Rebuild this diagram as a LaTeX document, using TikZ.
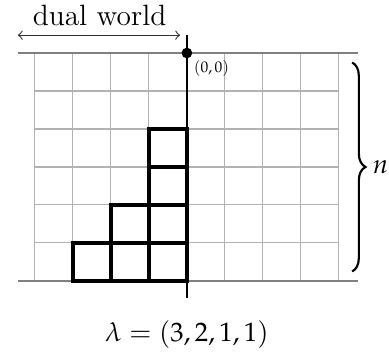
\documentclass[tikz,border=0pt]{standalone}
\usepackage{amsmath}
\usepackage{mathpazo}
\usetikzlibrary{positioning}
\usetikzlibrary{decorations.pathreplacing}

\tikzset{
  gridline/.style={gray!60, line width=0.4pt},
  edgeline/.style={gray, line width=0.8pt},
  cell/.style={black, line width=1.2pt},
  axisline/.style={black, line width=0.8pt},
  origindot/.style={circle, fill=black, inner sep=0pt, minimum size=4pt},
}

\begin{document}
\begin{tikzpicture}[x=0.5cm, y=0.5cm]
    \useasboundingbox (-4.92,1.395) rectangle (5.32,-7.89);

    % Grid
    \foreach \i in {-4,...,4} {
        \draw[gridline] (\i,0) -- (\i,-6);
    }
    \foreach \j in {-1,...,-5} {
        \draw[gridline] (-4,\j) -- (4,\j);
    }

    % Top and bottom lines
    \draw[edgeline] (-4.45,0) -- (4.5,0);
    \draw[edgeline] (-4.45,-6) -- (4.5,-6);

    % Young diagram
    \foreach \c/\r in {-3/-5,-2/-5,-1/-5,-2/-4,-1/-4,-1/-3,-1/-2} {
        \draw[cell] (\c,\r) rectangle (\c+1,\r-1);
    }

    % Axis and origin
    \coordinate (axtop) at (0,0.47);
    \coordinate (axbot) at (0,-6.45);
    \draw[axisline] (axtop) -- (axbot);
    \node[origindot] (origin) at (0,0) {};
    \node[anchor=north west, inner sep=0pt, font=\fontsize{5.8}{7}\selectfont] (orglabel) at (0.17,-0.18) {$(0,0)$};

    % Dual world
    \coordinate (dwl) at (-4.45,0.47);
    \coordinate (dwr) at (-0.18,0.47);
    \draw[<->, black!80, line width=0.4pt] (dwl) -- (dwr);
    \node[above=0pt, font=\fontsize{11}{13}\selectfont] (dual) at (-2.3,0.47) {dual world};

    % Brace
    \coordinate (brtop) at (4.35,-0.25);
    \coordinate (brbot) at (4.35,-5.75);
    \draw[decorate, decoration={brace, amplitude=5pt}, line width=0.8pt] (brtop) -- (brbot)
        node[midway, right=4pt] (nlabel) {$n$};

    % Partition
    \node (lambda) at (0,-7.42) {$\lambda = (3,2,1,1)$};
\end{tikzpicture}
\end{document}
